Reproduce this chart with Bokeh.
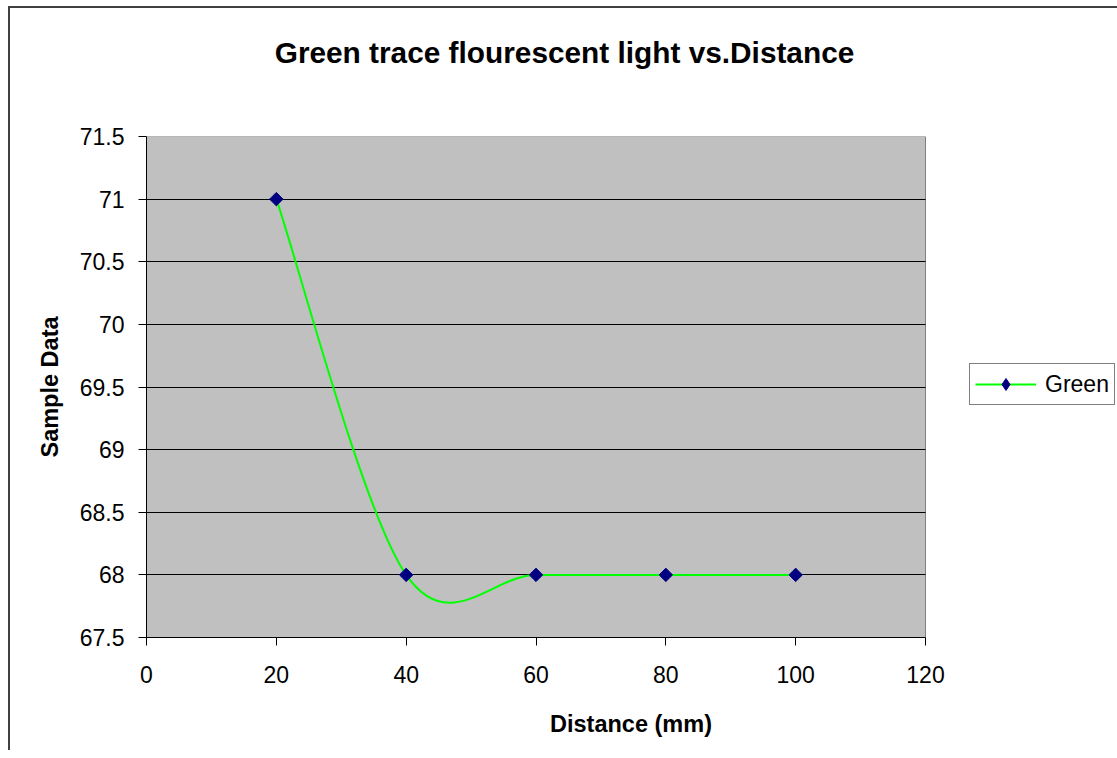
import numpy as np
from bokeh.plotting import figure
from bokeh.models import Range1d, FixedTicker, LinearAxis, Legend, LegendItem
from bokeh.embed import file_html
from bokeh.resources import INLINE

# ---- data ----
distance = [20, 40, 60, 80, 100]
green = [71, 68, 68, 68, 68]
x_ticks = [0, 20, 40, 60, 80, 100, 120]
x_tick_labels = ["0", "20", "40", "60", "80", "100", "120"]
y_ticks = [67.5, 68, 68.5, 69, 69.5, 70, 70.5, 71, 71.5]
y_tick_labels = ["67.5", "68", "68.5", "69", "69.5", "70", "70.5", "71", "71.5"]
title_text = "Green trace flourescent light vs.Distance"
x_title = "Distance (mm)"
y_title = "Sample Data"
series_name = "Green"

FONT = "Liberation Sans"

# ---- layout (pixels) ----
W, H = 1117, 750
PLOT_L, PLOT_R, PLOT_T, PLOT_B = 146, 925, 136, 637   # grey plot area
FRAME_R = 1115                                        # frame extends right to hold the legend
TITLE_CX = 564                                        # title centre (px)

x_lo, x_hi = x_ticks[0], x_ticks[-1]
y_lo, y_hi = y_ticks[0], y_ticks[-1]
px_per_x = (PLOT_R - PLOT_L) / (x_hi - x_lo)
x_end = x_lo + (FRAME_R - PLOT_L) / px_per_x
title_x = round(x_lo + (TITLE_CX - PLOT_L) / px_per_x, 2)

# Excel-like smoothed line: Catmull-Rom segments expressed as cubic Beziers
xs = np.array(distance, float)
ys = np.array(green, float)
qx = np.concatenate([[xs[0]], xs, [xs[-1]]])
qy = np.concatenate([[ys[0]], ys, [ys[-1]]])
n = len(xs)
seg = dict(
    x0=xs[:-1], y0=ys[:-1], x1=xs[1:], y1=ys[1:],
    cx0=xs[:-1] + (qx[2:n + 1] - qx[0:n - 1]) / 6.0,
    cy0=ys[:-1] + (qy[2:n + 1] - qy[0:n - 1]) / 6.0,
    cx1=xs[1:] - (qx[3:n + 2] - qx[1:n]) / 6.0,
    cy1=ys[1:] - (qy[3:n + 2] - qy[1:n]) / 6.0,
)

border_css = ("linear-gradient(#404040,#404040) 8px 6px / 3000px 2px no-repeat, "
              "linear-gradient(#404040,#404040) 8px 6px / 2px 3000px no-repeat, white")

p = figure(
    width=W, height=H,
    output_backend="svg", toolbar_location=None,
    x_range=Range1d(x_lo, x_end), y_range=Range1d(y_lo, y_hi),
    min_border_left=PLOT_L, min_border_right=W - FRAME_R,
    min_border_top=PLOT_T, min_border_bottom=H - PLOT_B,
    background_fill_color="white",
    border_fill_color="white", border_fill_alpha=0,
    outline_line_color=None,
    styles={"background": border_css},
)

# grey plot area
p.quad(left=x_lo, right=x_hi, bottom=y_lo, top=y_hi, fill_color="#C0C0C0",
       line_color="#808080", line_width=1, level="image")

p.bezier(x0="x0", y0="y0", x1="x1", y1="y1", cx0="cx0", cy0="cy0",
         cx1="cx1", cy1="cy1", source=seg, line_color="#00FF00", line_width=2)
legend_line = p.line(x=distance[:1], y=green[:1], line_color="#00FF00", line_width=2)
pts = p.scatter(distance, green, marker="square", size=9.5, angle=np.pi / 4,
                fill_color="#000080", line_color="#000080")
legend_pts = p.scatter(distance, green, marker="diamond", size=12,
                       fill_color="#000080", line_color="#000080")

# axes
p.xaxis.ticker = FixedTicker(ticks=x_ticks)
p.yaxis.ticker = FixedTicker(ticks=y_ticks)
p.xaxis.major_label_overrides = {t: l for t, l in zip(x_ticks, x_tick_labels)}
p.yaxis.major_label_overrides = {t: l for t, l in zip(y_ticks, y_tick_labels)}
p.xaxis.bounds = (x_lo, x_hi)
for ax in (p.xaxis[0], p.yaxis[0]):
    ax.axis_line_color = "black"
    ax.axis_line_width = 1
    ax.major_tick_line_color = "black"
    ax.major_tick_out = 8
    ax.major_tick_in = 0
    ax.minor_tick_line_color = None
    ax.major_label_text_font = FONT
    ax.major_label_text_font_size = "23px"
    ax.major_label_text_color = "black"
    ax.axis_label_text_font = FONT
    ax.axis_label_text_font_style = "bold"
    ax.axis_label_text_font_size = "23.5px"
    ax.axis_label_text_color = "black"
p.xaxis.major_label_standoff = 20
p.yaxis.major_label_standoff = 14
p.xaxis.axis_label = x_title
p.yaxis.axis_label = y_title
p.xaxis.axis_label_standoff = 25
p.yaxis.axis_label_standoff = 14

p.xgrid.grid_line_color = None
p.ygrid.grid_line_color = "black"
p.ygrid.grid_line_width = 1
p.ygrid.cross_bounds = (x_lo, x_hi)

# chart title, drawn as the single label of a bare axis above the plot
title_axis = LinearAxis(
    ticker=FixedTicker(ticks=[title_x]),
    major_label_overrides={title_x: title_text},
    axis_line_color=None, major_tick_line_color=None, minor_tick_line_color=None,
    major_tick_out=0, major_tick_in=0, major_label_standoff=68,
    major_label_text_font=FONT, major_label_text_font_style="bold",
    major_label_text_font_size="29.8px", major_label_text_color="black",
)
p.add_layout(title_axis, "above")

legend = Legend(items=[LegendItem(label=series_name, renderers=[legend_line, legend_pts])],
                location=(969 - PLOT_L, PLOT_B - 405), orientation="vertical",
                border_line_color="black", border_line_width=1,
                background_fill_color="white", background_fill_alpha=1,
                padding=5, margin=0, spacing=0,
                glyph_width=61, glyph_height=30, label_height=30,
                label_standoff=9, label_text_font=FONT,
                label_text_font_size="23px", label_text_color="black")
p.add_layout(legend)

open("out.html", "w").write(file_html(p, INLINE))
